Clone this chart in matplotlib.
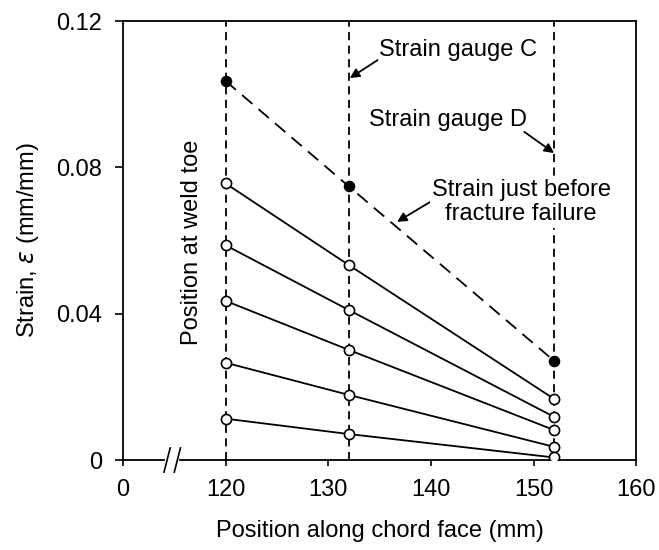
"""Strain distribution along the chord face at the weld toe."""

import matplotlib

matplotlib.use("Agg")
import matplotlib.pyplot as plt

plt.rcParams["font.family"] = ["Liberation Sans", "DejaVu Sans"]
plt.rcParams["font.size"] = 17

# gauge positions along the chord face (mm)
positions = [120, 132, 152]

# strain at successive load steps (mm/mm)
load_steps = [
    [0.0756, 0.0533, 0.0167],
    [0.0587, 0.0410, 0.0118],
    [0.0435, 0.0301, 0.0082],
    [0.0266, 0.0178, 0.0036],
    [0.0113, 0.0071, 0.0007],
]
# strain just before fracture failure
failure = [0.1036, 0.0748, 0.0271]

x_ticks = [110, 120, 130, 140, 150, 160]
x_tick_labels = ["0", "120", "130", "140", "150", "160"]
y_ticks = [0, 0.04, 0.08, 0.12]
y_tick_labels = ["0", "0.04", "0.08", "0.12"]

fig = plt.figure(figsize=(6.59, 5.5), dpi=100)
ax = fig.add_axes([0.1866, 0.1636, 0.7788, 0.7982])

ax.set_xlim(110, 160)
ax.set_ylim(0, 0.12)

# gauge locations
for xp in positions:
    ax.plot([xp, xp], [0, 0.12], color="black", lw=1.3,
            dashes=(4.5, 3), zorder=1)

for series in load_steps:
    ax.plot(positions, series, color="black", lw=1.3, marker="o",
            markersize=7.3, markerfacecolor="white", markeredgecolor="black",
            markeredgewidth=1.2, zorder=3)

ax.plot(positions, failure, color="black", lw=1.3, dashes=(7.5, 4.5),
        marker="o", markersize=7.3, markerfacecolor="black", zorder=3)

ax.set_xticks(x_ticks)
ax.set_xticklabels(x_tick_labels)
ax.set_yticks(y_ticks)
ax.set_yticklabels(y_tick_labels)
ax.tick_params(axis="x", direction="out", length=4.5, width=1.2, pad=9)
ax.tick_params(axis="y", direction="out", length=6, width=1.2, pad=9)
for sp in ax.spines.values():
    sp.set_linewidth(1.3)

ax.set_xlabel("Position along chord face (mm)", labelpad=14)
ax.set_ylabel("Strain, $\\varepsilon$ (mm/mm)", labelpad=11)

# axis break between 0 and 120
ax.plot([114.3, 115.3], [0, 0], color="white", lw=3, clip_on=False, zorder=5)
for xb in (114.3, 115.3):
    ax.plot([xb - 0.3, xb + 0.3], [-0.0033, 0.0033], color="black",
            lw=1.2, clip_on=False, zorder=6)

arrow = dict(arrowstyle="-|>", color="black", lw=1.3, mutation_scale=14,
             shrinkA=0, shrinkB=0)

ax.text(134.9, 0.1121, "Strain gauge C", ha="left", va="center")
ax.annotate("", xy=(132.1, 0.1044), xytext=(134.8, 0.1093),
            arrowprops=arrow)

ax.text(134.0, 0.0929, "Strain gauge D", ha="left", va="center")
ax.annotate("", xy=(152.0, 0.0839), xytext=(149.1, 0.0897),
            arrowprops=arrow)

ax.text(148.8, 0.0705, "Strain just before\nfracture failure",
        ha="center", va="center", linespacing=1.15,
        bbox=dict(facecolor="white", edgecolor="none", pad=1.5), zorder=4)
ax.annotate("", xy=(136.7, 0.0651), xytext=(139.9, 0.0705),
            arrowprops=arrow)

ax.text(116.7, 0.0596, "Position at weld toe", rotation=90,
        ha="center", va="center")

fig.savefig("out.png", dpi=100)
